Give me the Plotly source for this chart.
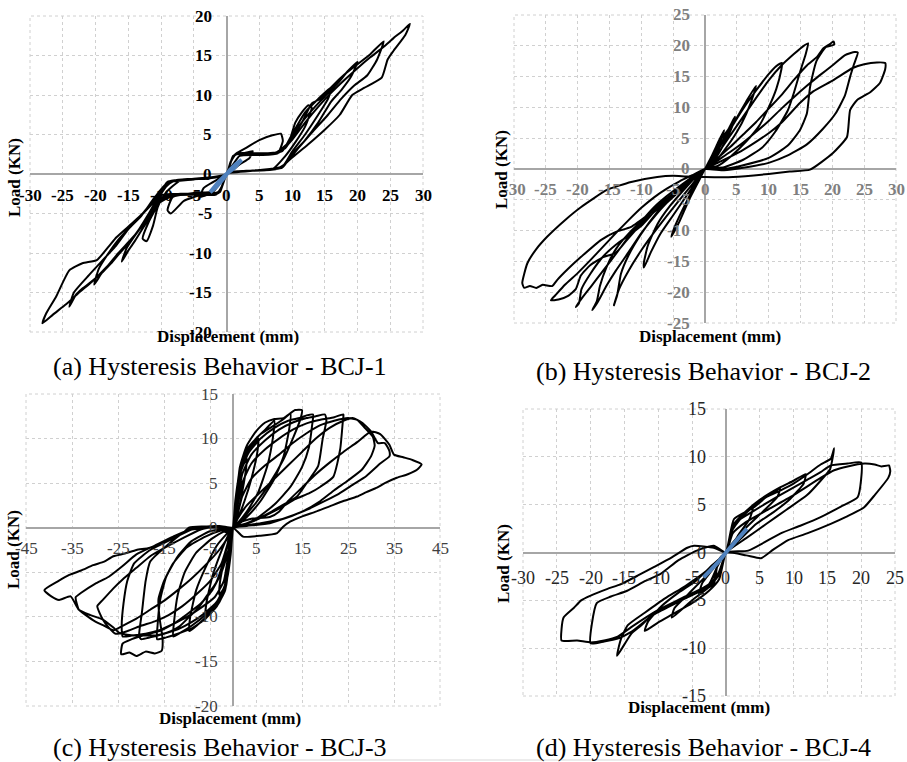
import plotly.graph_objects as go

W, H = 907, 762

# ---------------- DATA ----------------
# BCJ-1 (a)
bcj1_disp = [0, 0.6, 1.3, 2.5, 4, 3.5, 2, 0.8, 0,
             -0.6, -1.3, -2.5, -4, -3.5, -2, -0.8, 0,
             0.7, 1.5, 3, 5, 7, 8.3, 8.6, 7.8, 5, 2, 1, 0,
             -0.7, -1.5, -4, -6.5, -8.5, -9, -8.2, -5, -2, -1, 0,
             0.8, 1.5, 5, 8, 9.5, 10.5, 11.5, 12.5, 13, 12, 10.5, 9, 7, 3, 0.8, 0,
             -0.8, -1.6, -5, -9.5, -10.5, -11.2, -12.2, -12.8, -12, -10.5, -9.2, -7, -3, -0.8, 0,
             0.9, 1.7, 6, 8.5, 10, 12, 14, 16, 15.5, 14, 12, 10, 8.5, 5, 1, 0,
             -0.9, -1.7, -6, -10, -11, -12.5, -14, -15, -16, -15.2, -13.5, -12, -10.5, -9, -5, -1, 0,
             1, 1.8, 7, 9, 11, 13.5, 15, 17, 18.5, 20, 19, 17.5, 16, 14, 12, 10, 8.5, 4, 1, 0,
             -1, -1.8, -7, -10, -12, -14, -16, -17.5, -19, -20.2, -19.5, -18, -16.5, -14.5, -12.5, -10, -8.5, -4, -1, 0,
             1, 1.8, 7.5, 9.5, 11.5, 13, 14.5, 16, 18, 20, 22, 24, 23, 21.5, 19.5, 17.5, 15.5, 13, 11, 9, 7.5, 3, 0,
             -1, -1.8, -8, -10.5, -12.5, -14.5, -16.5, -18, -20, -22, -23, -24, -23.3, -21, -19, -17, -15, -13, -11, -9, -5, -1, 0,
             1, 1.9, 8, 10, 12, 14, 16, 18, 20, 22, 24, 25.5, 27, 28, 27.3, 25.5, 24.6, 23.7, 21, 19.2, 17.3, 15, 12.4, 9.9, 8.4, 5, 1, 0,
             -1, -1.9, -8, -10.5, -12.5, -14.5, -16.5, -18.5, -20.5, -22.5, -24.5, -26.5, -28.1, -27.5, -26, -24, -22, -19.8, -18, -16.8, -14.5, -12.8, -10.8, -8.7, -7.6, -3, 0]
bcj1_load = [0, 1.5, 2.4, 2.6, 2.9, 2.0, 1.2, 0.4, 0,
             -1.4, -2.3, -2.5, -2.9, -1.8, -1.0, -0.4, 0,
             1.6, 2.6, 3.3, 4.3, 4.9, 5.1, 4.2, 2.6, 2.4, 2.3, 1.2, 0,
             -1.6, -2.5, -2.7, -3.4, -5.0, -4.6, -2.9, -2.4, -2.2, -1.1, 0,
             1.8, 2.6, 2.6, 2.8, 4.0, 6.5, 7.8, 8.7, 8.4, 6.0, 4.0, 2.3, 0.6, 0.4, 0.3, 0,
             -1.8, -2.6, -2.6, -2.7, -4.2, -6.5, -8.5, -8.2, -6.3, -4.0, -2.3, -0.8, -0.6, -0.3, 0,
             2.0, 2.6, 2.6, 2.9, 5.0, 7.8, 9.5, 11.0, 9.5, 7.5, 5.0, 2.8, 0.9, 0.5, 0.3, 0,
             -2.0, -2.6, -2.5, -2.7, -4.5, -6.5, -8.5, -9.7, -11.1, -9.3, -7.2, -5.2, -3.0, -1.0, -0.6, -0.3, 0,
             2.2, 2.6, 2.6, 3.3, 6.0, 8.5, 9.8, 11.5, 13.0, 14.2, 12.3, 10.6, 9.2, 6.5, 4.3, 2.5, 0.8, 0.4, 0.2, 0,
             -2.2, -2.5, -2.5, -3.0, -5.5, -7.8, -9.7, -11.2, -12.5, -14.0, -12.0, -10.0, -8.3, -6.5, -4.8, -2.5, -0.9, -0.6, -0.3, 0,
             2.2, 2.6, 2.7, 4.0, 6.5, 8.9, 9.6, 11.0, 12.6, 13.9, 15.2, 16.8, 14.5, 12.5, 11.2, 9.5, 7.5, 5.2, 3.3, 1.3, 0.6, 0.4, 0,
             -2.2, -2.5, -2.6, -3.5, -6.0, -8.3, -10.2, -11.5, -13.2, -14.5, -15.3, -16.8, -15.0, -12.8, -11.0, -9.2, -7.0, -5.3, -3.0, -1.1, -0.7, -0.3, 0,
             2.3, 2.6, 2.7, 4.3, 6.5, 8.5, 10.3, 11.9, 13.4, 14.8, 16.1, 17.2, 18.2, 19.0, 17.6, 15.6, 14.5, 12.2, 10.9, 10.0, 7.5, 5.6, 3.7, 2.0, 0.9, 0.5, 0.2, 0,
             -2.3, -2.6, -2.7, -3.8, -6.2, -8.2, -10.0, -12.0, -13.6, -15.0, -16.5, -17.8, -18.9, -17.6, -15.5, -12.2, -11.3, -10.9, -9.2, -8.0, -6.3, -5.0, -3.0, -1.2, -0.75, -0.5, 0]
bcj1_init_disp = [-2.5, -1.5, -0.5, 0.5, 1.5, 2.3, 1.2, 0, -1.2, -2.5]
bcj1_init_load = [-2.3, -1.6, -0.6, 0.5, 1.3, 1.8, 0.8, 0, -1.0, -2.3]

# BCJ-2 (b)
bcj2_disp = [0, 1, 2, 3, 2.6, 1.5, 0.5, 0,
             -1, -2.5, -4, -5.3, -4.6, -3, -1.5, 0,
             1, 2.5, 3.7, 4.7, 4.3, 3.2, 1.8, 0,
             1.5, 3, 5, 6.5, 8, 7.7, 6.5, 5, 3, 1, 0,
             -1, -3, -5, -7, -8.5, -9.6, -9.6, -9, -7.5, -5.5, -3, -1, 0,
             2, 4, 6, 8, 10, 11.2, 12.1, 12, 11.2, 10, 8.5, 6.5, 4, 2, 0,
             -2, -4, -6, -8, -10, -12, -13.5, -14.3, -13.8, -13.2, -12, -10, -7.5, -5, -2.5, 0,
             2, 4, 6, 8, 10, 12, 14, 15.5, 16.2, 15.8, 15, 14, 13, 11, 9, 6, 3, 0,
             -2, -4, -6, -8, -10, -12, -14, -15.5, -16.8, -17.7, -17, -16.5, -15.5, -14, -12, -9.5, -7, -4, -2, 0,
             2, 4, 6, 8, 10, 12, 14, 16, 17.6, 18.5, 19.5, 20.2, 20.3, 19, 17.5, 16.5, 16, 14.9, 13, 10, 6, 3, 0,
             -2, -4, -6, -8, -10, -12, -14, -16, -18, -19.5, -20.3, -19.8, -19.4, -18, -16, -14, -12, -10, -8, -5, -2.5, 0,
             2, 4, 6, 8, 10, 12, 14, 16, 18, 20, 22, 23.5, 24, 23.4, 22.8, 22, 20.5, 18.5, 16, 13, 10, 6, 3, 0,
             -2, -4, -6, -8, -10, -12, -14, -16, -18, -20, -22, -23.5, -24.2, -23, -21.5, -20.3, -19.5, -18, -16, -14, -12, -10, -8, -5, -2, 0,
             2, 4, 6, 8, 10, 12, 14.9, 17, 20.1, 23.2, 25, 27, 28.3, 28.3, 27.5, 26, 23.9, 22.8, 22.3, 20.1, 16.5, 13.3, 10, 4.4, 0,
             -3, -5, -7.5, -11.6, -15.4, -19.5, -22, -24.8, -26.5, -27.9, -28.7, -28.4, -27.5, -26.5, -25.5, -24, -23.2, -21.5, -19.5, -16.3, -14, -11.6, -8, -3.8, 0]
bcj2_load = [0, 2, 4.2, 6.3, 5, 2.5, 0.5, 0,
             -2, -5, -8.5, -11, -9, -5.5, -2.5, 0,
             2, 4.8, 6.5, 8.5, 7, 4.5, 2, 0,
             2.5, 5, 8.3, 11, 13.5, 12.3, 9, 6, 3, 0.5, 0,
             -1.5, -4.5, -7.5, -10.5, -13.5, -16, -15.2, -12.5, -9, -6, -3, -0.8, 0,
             3, 6.5, 9.8, 12.7, 15.4, 16.7, 17.2, 16.2, 13, 10, 7, 4.5, 2, 0.5, 0,
             -2.5, -5, -7.6, -10.3, -13.2, -16.5, -19.5, -22.1, -20.5, -17, -14, -10.5, -7, -4.2, -1.8, 0,
             2.5, 5.5, 8.5, 11.5, 14.4, 16.8, 18.7, 20, 20.4, 18.6, 16, 12.5, 9.5, 6, 3.5, 1.5, 0.3, 0,
             -1.8, -3.6, -5.5, -7.8, -10.4, -13.5, -16.5, -19, -21.5, -22.9, -21.5, -19, -16, -13, -10.5, -8, -5.8, -3.2, -1.4, 0,
             1.8, 3.6, 5.6, 7.6, 9.8, 12, 14.5, 16.8, 18.2, 19.5, 20.2, 20.7, 20.2, 19.8, 17.5, 13.3, 9, 6.3, 3.8, 1.8, 0.6, 0, 0,
             -1.3, -2.8, -4.4, -6.2, -8.5, -11, -13.8, -16.5, -19.2, -21.2, -22.4, -21.8, -19.5, -17, -14.2, -12.3, -10.8, -9.2, -7, -4.3, -2, 0,
             1.4, 2.8, 4.3, 6, 7.8, 9.8, 11.7, 13.5, 15.2, 16.8, 18.5, 19, 18.9, 17, 15, 12, 9, 6.5, 4, 2.2, 1, 0.2, -0.2, 0,
             -1, -2, -3.2, -4.6, -6.3, -8.3, -10.4, -12.6, -14.8, -16.9, -18.8, -20.5, -21.3, -21.2, -20.6, -19.5, -17.3, -15.6, -14.3, -13.6, -11.2, -8.9, -6.5, -4, -1.5, 0,
             1, 2, 3.1, 4.4, 5.8, 7.5, 10.7, 12.6, 14.4, 16.4, 17, 17.3, 17.2, 16.2, 14, 12.5, 11.2, 9.6, 5.2, 2.6, -0.1, -0.4, -0.8, -1.3, -1.3,
             -1.2, -1.1, -1.3, -2.1, -3.4, -6.2, -8.3, -11, -13, -15.3, -18.5, -19.3, -19, -19.3, -18.8, -19, -18, -16.2, -14.3, -11.5, -10.2, -9.4, -6.7, -3.4, 0]

# BCJ-3 (c)
bcj3_disp = [0, 0.5, 1.2, 2.2, 3, 2.8, 2, 1, 0,
             -0.5, -1.2, -2.2, -3, -2.8, -2, -1, 0,
             0.6, 1.3, 2.5, 4, 5.5, 5.3, 4, 2.5, 1, 0,
             -0.6, -1.4, -2.8, -4.5, -6, -5.8, -4.5, -2.8, -1, 0,
             0.7, 1.5, 3, 5, 7, 9, 8.7, 7.5, 5.5, 3, 1, 0,
             -0.7, -1.5, -3, -5, -7.5, -9.5, -9.3, -8, -6, -3.5, -1, 0,
             0.8, 1.5, 3, 6, 9, 11, 12.5, 12.2, 11, 9, 6, 3, 1, 0,
             -0.8, -1.6, -3, -6, -9, -11.5, -13, -12.8, -12, -10.5, -8, -4.5, -1.5, 0,
             0.9, 1.6, 3, 5, 7, 9, 11, 13.5, 15, 14.6, 13, 10.9, 8, 5, 3.7, 1.5, 0,
             -0.9, -1.7, -3.5, -6, -9, -12, -14.5, -16.5, -16.4, -15.8, -14.5, -12, -9, -5, -1.5, 0,
             1, 1.8, 3.5, 6, 9, 12, 14.5, 16, 17.4, 17.2, 16.5, 15, 12.5, 9, 5, 2, 0,
             -1, -1.8, -3.5, -6, -9, -12, -15, -18, -20, -20.4, -19.8, -19, -18, -14.6, -10.3, -6, -2, 0,
             1, 2, 4, 7, 10, 13, 16, 18, 20, 20.3, 19.5, 18.5, 16, 13.9, 10, 8, 3.7, 0,
             -1, -2, -4, -7, -10, -13, -16, -19, -22, -24, -24.2, -23.8, -23, -21.5, -18, -13, -9, -4, 0,
             1, 2, 4, 7, 10, 13, 16, 19, 22, 24, 23.9, 23.3, 21.8, 19, 16.7, 13.5, 10.9, 8, 5.2, 2, 0,
             -1, -2.5, -4.5, -7, -10, -13, -16, -19, -22, -24, -24.3, -22.5, -21, -19, -17, -15.5, -15.3, -16, -16.2, -15, -13, -10, -6, -2, 0,
             1, 2, 4, 7, 10, 13, 16, 19, 22, 25, 27, 28.5, 30.4, 30.8, 30, 28, 25, 22, 19, 15, 11, 6, 2, 0,
             -1, -2.5, -5, -8, -11, -14, -17, -20, -23, -25.5, -27, -28.3, -29.5, -28.3, -26, -24, -21, -18, -15, -11, -7, -3, 0,
             1, 3, 6, 9, 12, 15, 18, 21, 24, 26, 28, 30, 31.5, 33, 34, 34, 32, 29, 26, 23, 20, 16, 12, 8, 3, 0,
             -1, -3, -6, -9, -12, -15, -18, -21, -24, -26, -28, -30, -32, -33.5, -34.2, -33, -30, -27, -24, -21, -17, -13, -9, -4, 0,
             1, 4, 8, 10, 12, 15, 18, 21, 24, 27, 30, 32, 34, 35, 37, 39, 41, 40, 38, 35.6, 33, 31.3, 29, 27, 24, 21, 18, 15.2, 12.5, 10.9, 9.6, 6, 2.2, 0,
             -1.5, -4, -9.6, -10.9, -13, -16, -18.5, -21, -23.5, -26, -28, -30.4, -33, -35.6, -38, -41, -39.5, -37.8, -35.3, -33.5, -31, -28.3, -26, -24.7, -23, -20, -16, -13.5, -11.7, -9.5, -7.4, -5.5, -3.7, -2.5, -1.5, 0]
bcj3_load = [0, 3, 5.5, 7, 7.8, 6.5, 4, 1.5, 0,
             -3, -5.5, -7, -7.5, -6, -3.8, -1.4, 0,
             3, 6, 7.8, 9, 10, 8.5, 5.5, 3, 1, 0,
             -3, -6, -7.8, -9.2, -10.2, -8.5, -5.5, -3, -0.8, 0,
             3, 6.5, 8.5, 10, 11, 12, 10.2, 7, 4, 1.8, 0.5, 0,
             -3, -6.5, -8.4, -9.6, -10.8, -11.6, -10, -7, -4.5, -2, -0.5, 0,
             3.5, 6.8, 8.8, 10.5, 11.5, 12.2, 12.8, 11, 8, 5.5, 3, 1.2, 0.3, 0,
             -3.5, -6.5, -8.2, -9.8, -11, -11.8, -12.2, -10.5, -7.5, -5, -2.8, -1.2, -0.3, 0,
             4, 7, 9.2, 10.8, 11.8, 12.2, 12.3, 13.2, 13.2, 12.1, 10, 7.6, 5, 2.8, 2, 0.6, 0,
             -4, -7, -8.8, -10.2, -11.3, -11.9, -12.3, -12.5, -11, -8, -5.5, -3.2, -1.5, -0.4, -0.1, 0,
             3.5, 6.5, 8.5, 10, 11.2, 12, 12.3, 12.6, 12.7, 11.5, 9, 6.8, 4.6, 2.6, 1, 0.3, 0,
             -3.5, -6.5, -8.3, -9.5, -10.6, -11.4, -11.9, -12.3, -12.5, -12, -9.5, -6, -3.8, -2.1, -0.4, 0, 0, 0,
             3, 6, 8.2, 9.8, 11, 11.8, 12.3, 12.5, 12.7, 12, 10, 6.9, 5, 3.5, 2.3, 1.7, 0.6, 0,
             -3, -6, -7.8, -9, -10, -10.8, -11.5, -11.9, -12.1, -12.2, -11, -8.5, -6, -4, -2.5, -1.2, -0.2, 0.2, 0,
             2.5, 5, 7.2, 8.8, 10, 11, 11.7, 12.1, 12.4, 12.7, 12.1, 8.8, 5.7, 4.6, 3.9, 3.2, 2.4, 1.6, 0.9, 0.3, 0,
             -2.5, -5, -7, -8.5, -9.7, -10.8, -11.6, -12, -12.5, -13, -14.2, -14, -14.4, -13.9, -14.1, -13.8, -12.5, -10, -8, -6, -4, -2.2, -1, -0.2, 0,
             1.5, 3.5, 5.5, 7, 8.2, 9.5, 10.6, 11.5, 12, 12.3, 12.1, 11.3, 10.2, 9.2, 8, 6.5, 5.3, 4.2, 3, 1.8, 1, 0.5, 0.2, 0,
             -1.5, -4, -6, -7.5, -8.8, -9.8, -10.5, -11, -11.6, -11.9, -11.2, -10.3, -8.8, -8.1, -6.8, -5.8, -4.5, -3.2, -2.3, -1.2, -0.2, 0.2, 0,
             1, 2.5, 4, 5.5, 7, 8.5, 10, 11.2, 12, 12.3, 11.8, 10.8, 9.5, 9.5, 8.6, 8, 7.2, 5.8, 4.8, 3.8, 3, 2, 1.2, 0.5, 0.2, 0,
             -1, -2.5, -4.2, -5.7, -7, -8.2, -9.2, -10.2, -11, -11.5, -11, -10.5, -9.8, -9.2, -7.8, -7.3, -6.3, -5.5, -4.3, -3, -2, -1, -0.1, 0.2, 0,
             0.5, 1, 1.2, 1.8, 3, 4.5, 6, 7.3, 8.5, 9.6, 10.8, 10.5, 9.3, 8.2, 7.9, 7.6, 7.1, 6.5, 6, 5.6, 5, 4.5, 4, 3.5, 3, 2.4, 1.8, 1.3, 0.7, 0.1, -0.6, -0.9, -1, 0,
             -0.5, 0.1, 0, -0.6, -1.2, -1.9, -2.3, -2.5, -2.9, -3.2, -3.8, -4.2, -4.8, -5.3, -6, -7, -7.7, -8.1, -7.7, -9.2, -9.8, -10.3, -11.2, -11.8, -12, -12.1, -12, -11.6, -11.1, -10, -8.9, -7.5, -6.2, -4.5, -2.5, 0]

# BCJ-4 (d)
bcj4_disp = [0, 1, 2.5, 4, 3.5, 2, 0.8, 0,
             -1, -2.5, -4, -3.5, -2, -0.8, 0,
             1, 2.5, 5, 8, 7.6, 5.5, 3, 1, 0,
             -1, -2.5, -5, -8, -7.6, -5.5, -3, -1, 0,
             1, 2.5, 5, 8, 10, 11.8, 11.5, 9.5, 7, 4.5, 2, 0,
             -1, -2.5, -5, -8, -10, -12, -11.5, -9.5, -7, -4.5, -2, 0,
             1.2, 4.1, 6, 8.1, 10, 12.1, 14, 15.5, 16, 15.4, 14, 12, 9, 6, 3, 0,
             -1.3, -1.8, -5.8, -10.7, -12.5, -14, -16.1, -15.5, -14.5, -12, -9, -6, -3, 0,
             1.2, 4, 8, 12, 14, 15.5, 18, 20, 19.5, 17, 14, 11, 8.1, 3.3, 0,
             -1.3, -2, -6, -10.7, -14, -16, -18, -20, -19.1, -17, -14.6, -12, -9.6, -7, -4.3, -1.8, 0,
             1, 3, 6, 10, 14, 16, 18, 20.5, 22, 23, 24.1, 24.3, 24, 22, 20.4, 18, 15.5, 12, 9.2, 7, 5.2, 3, 0,
             -1.3, -2.5, -6, -10, -14, -16, -18, -20, -22, -24.3, -24.3, -24, -22.5, -21.4, -20, -17.5, -15.5, -13, -10.6, -8, -5.7, -4.7, -1.8, 0]
bcj4_load = [0, 2.5, 3.8, 4.7, 3.5, 2, 0.6, 0,
             -2, -3.5, -4.4, -3.2, -1.8, -0.5, 0,
             2.4, 3.8, 5.3, 6.7, 5.8, 4.3, 2.6, 1, 0,
             -2.3, -3.6, -5, -6.8, -5.8, -4.3, -2.5, -0.8, 0,
             2.8, 4, 5.5, 6.8, 7.5, 8.2, 7.2, 5.6, 4.2, 3, 1.3, 0,
             -2.8, -4, -5.3, -6.5, -7.3, -8.2, -7.2, -5.6, -4.2, -3, -1.3, 0,
             3.5, 4.7, 5.8, 6.5, 7.2, 8.2, 9.2, 9.8, 10.9, 8.7, 7.5, 6, 4.5, 3, 1.5, 0,
             -1.5, -3.3, -4.7, -6.4, -7.6, -8.5, -10.8, -9, -7.6, -6.3, -4.8, -3.5, -2, 0,
             3, 4.3, 6, 7.6, 8.4, 9.1, 9.3, 9.4, 5.8, 4.8, 3.7, 2.8, 2, 0.2, 0,
             -1.5, -3.3, -4.8, -6.5, -8.3, -9, -9.3, -9.5, -5.3, -4.6, -4, -3, -2.2, -0.8, 0.2, 0.7, 0,
             2, 3.2, 4.4, 6, 7.8, 8.6, 9, 9.3, 9.2, 9, 9.1, 8.5, 7.8, 6, 4.7, 3.8, 3, 2, 1.3, 0.3, -0.6, -0.3, 0,
             -1.5, -3.3, -4.6, -6, -7.8, -8.8, -9.2, -9.4, -9.2, -9.2, -8, -6.8, -5.8, -5, -4.5, -3.8, -3.3, -2.4, -1.5, -0.5, 0.5, 0.7, 0.5, 0]
bcj4_init_disp = [-3.3, -2, -1, 0, 1, 2, 3.1]
bcj4_init_load = [-2.6, -1.7, -0.9, 0, 0.8, 1.6, 2.5]

# tick labels
bcj1_xticks = [-30, -25, -20, -15, -10, -5, 0, 5, 10, 15, 20, 25, 30]
bcj1_yticks = [-20, -15, -10, -5, 0, 5, 10, 15, 20]
bcj2_xticks = [-30, -25, -20, -15, -10, -5, 0, 5, 10, 15, 20, 25, 30]
bcj2_yticks = [-25, -20, -15, -10, -5, 0, 5, 10, 15, 20, 25]
bcj3_xticks = [-45, -35, -25, -15, -5, 5, 15, 25, 35, 45]
bcj3_yticks = [-20, -15, -10, -5, 0, 5, 10, 15]
bcj4_xticks = [-30, -25, -20, -15, -10, -5, 0, 5, 10, 15, 20, 25]
bcj4_yticks = [-15, -10, -5, 0, 5, 10, 15]

captions = ["(a) Hysteresis Behavior - BCJ-1", "(b) Hysteresis Behavior - BCJ-2",
            "(c) Hysteresis Behavior - BCJ-3", "(d) Hysteresis Behavior - BCJ-4"]

# ---------------- LAYOUT ----------------
def fx(p):
    return p / W

def fy(p):
    return 1 - p / H

panels = [
    dict(x=bcj1_disp, y=bcj1_load, bx=bcj1_init_disp, by=bcj1_init_load,
         xt=bcj1_xticks, yt=bcj1_yticks, xr=[-30, 30], yr=[-20, 20], xd=5, x0=-30, yd=5,
         box=(30, 423, 16, 332), font=dict(family="Liberation Serif", size=17, color="#000000"), bold=True,
         xshift=-13, yshift=-21,
         ylab=(15, 178), xlab=(228, 336), cap=(220, 367)),
    dict(x=bcj2_disp, y=bcj2_load, bx=None, by=None,
         xt=bcj2_xticks, yt=bcj2_yticks, xr=[-30, 30], yr=[-25, 25], xd=5, x0=-30, yd=5,
         box=(514, 896, 15, 323), font=dict(family="Liberation Serif", size=17, color="#7f7f7f"), bold=True,
         xshift=-13, yshift=-21,
         ylab=(501, 170), xlab=(710, 336), cap=(703, 371)),
    dict(x=bcj3_disp, y=bcj3_load, bx=None, by=None,
         xt=bcj3_xticks, yt=bcj3_yticks, xr=[-45, 45], yr=[-20, 15], xd=10, x0=-45, yd=5,
         box=(26, 440, 394, 706), font=dict(family="Liberation Serif", size=17, color="#404040"), bold=False,
         xshift=-13, yshift=-21,
         ylab=(13, 550), xlab=(230, 718), cap=(220, 747)),
    dict(x=bcj4_disp, y=bcj4_load, bx=bcj4_init_disp, by=bcj4_init_load,
         xt=bcj4_xticks, yt=bcj4_yticks, xr=[-30, 25], yr=[-15, 15], xd=5, x0=-30, yd=5,
         box=(523, 895, 409, 696), font=dict(family="Liberation Serif", size=18, color="#262626"), bold=False,
         xshift=-18, yshift=-25,
         ylab=(503, 563), xlab=(699, 707), cap=(703, 747)),
]

fig = go.Figure()
annotations = []
shapes = []
layout_axes = {}
for i, p in enumerate(panels, start=1):
    xa = "x" if i == 1 else f"x{i}"
    ya = "y" if i == 1 else f"y{i}"
    fig.add_trace(go.Scatter(x=p["x"], y=p["y"], mode="lines", xaxis=xa, yaxis=ya,
                             line=dict(color="black", width=2, shape="spline", smoothing=0.5),
                             showlegend=False, hoverinfo="skip"))
    if p["bx"] is not None:
        fig.add_trace(go.Scatter(x=p["bx"], y=p["by"], mode="lines", xaxis=xa, yaxis=ya,
                                 line=dict(color="#4f81bd", width=4), showlegend=False, hoverinfo="skip"))
    l, r, t, b = p["box"]
    common = dict(showgrid=True, gridcolor="#d0d0d0", griddash="dot", gridwidth=1,
                  zeroline=True, zerolinecolor="#a6a6a6", zerolinewidth=2,
                  showticklabels=False, ticks="", showline=False, fixedrange=True)
    layout_axes["xaxis" if i == 1 else f"xaxis{i}"] = dict(
        domain=[fx(l), fx(r)], range=p["xr"], anchor=ya, tick0=p["x0"], dtick=p["xd"], **common)
    layout_axes["yaxis" if i == 1 else f"yaxis{i}"] = dict(
        domain=[fy(b), fy(t)], range=p["yr"], anchor=xa, tick0=0, dtick=p["yd"], **common)
    shapes.append(dict(type="rect", xref=f"{xa} domain", yref=f"{ya} domain", x0=0, x1=1, y0=0, y1=1,
                       line=dict(color="#d0d0d0", width=1, dash="dot"), layer="below"))

    def lab(v, bold=p["bold"]):
        s = str(v)
        return f"<b>{s}</b>" if bold else s
    for v in p["xt"]:
        annotations.append(dict(x=v, y=0, xref=xa, yref=ya, text=lab(v), showarrow=False,
                                xanchor="center", yanchor="middle", yshift=p["yshift"], font=p["font"]))
    for v in p["yt"]:
        annotations.append(dict(x=0, y=v, xref=xa, yref=ya, text=lab(v), showarrow=False,
                                xanchor="right", yanchor="middle", xshift=p["xshift"], font=p["font"]))
    tf = dict(family="Liberation Serif", size=17, color="#000000")
    annotations.append(dict(x=fx(p["ylab"][0]), y=fy(p["ylab"][1]), xref="paper", yref="paper",
                            text="<b>Load (KN)</b>", textangle=-90, showarrow=False,
                            xanchor="center", yanchor="middle", font=tf))
    annotations.append(dict(x=fx(p["xlab"][0]), y=fy(p["xlab"][1]), xref="paper", yref="paper",
                            text="<b>Displacement (mm)</b>", showarrow=False,
                            xanchor="center", yanchor="middle", font=tf))
    annotations.append(dict(x=fx(p["cap"][0]), y=fy(p["cap"][1]), xref="paper", yref="paper",
                            text=captions[i - 1], showarrow=False, xanchor="center", yanchor="middle",
                            font=dict(family="Liberation Serif", size=26, color="#000000")))

shapes.append(dict(type="line", xref="paper", yref="paper", x0=fx(110), x1=fx(830), y0=fy(760), y1=fy(760),
                   line=dict(color="#d9d9d9", width=1)))

fig.update_layout(width=W, height=H, margin=dict(l=0, r=0, t=0, b=0),
                  paper_bgcolor="white", plot_bgcolor="white",
                  annotations=annotations, shapes=shapes, showlegend=False, **layout_axes)
fig.write_html("out.html", config={"displayModeBar": False, "staticPlot": True},
               post_script="document.body.style.margin='0';document.body.style.padding='0';document.body.style.overflow='hidden';")
